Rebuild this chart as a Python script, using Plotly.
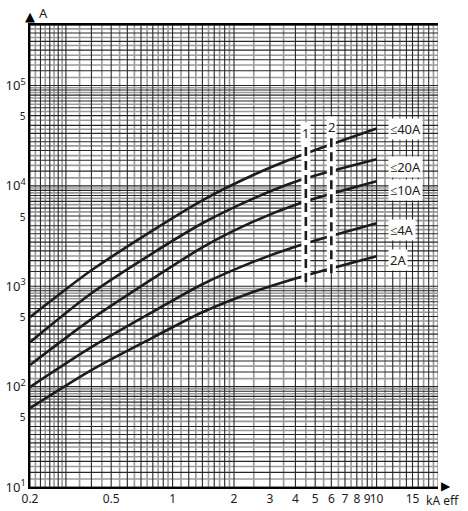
import math
import plotly.graph_objects as go

# ---------------- data ----------------
x_kA = [0.2, 0.4, 0.8, 1.4, 2.5, 4.2, 10]
i_40A = [492, 1442, 3606, 7180, 12900, 19950, 37300]
i_20A = [277, 851, 2140, 4240, 7500, 11350, 18370]
i_10A = [164, 470, 1189, 2443, 4420, 6700, 11100]
i_4A = [99, 247, 556, 1047, 1758, 2560, 4240]
i_2A = [61, 146, 308, 551, 881, 1231, 1990]

curve_names = ["≤40A", "≤20A", "≤10A", "≤4A", "2A"]
curve_label_y = [36500, 15280, 9020, 3606, 1815]

marker_x = [4.5, 6]
marker_y0 = [1100, 1350]
marker_y1 = [27100, 33300]
marker_names = ["1", "2"]
marker_label_y = [33300, 38500]

x_tick_vals = [0.2, 0.5, 1, 2, 3, 4, 5, 6, 7, 8, 9, 10, 15]
x_tick_text = ["0.2", "0.5", "1", "2", "3", "4", "5", "6", "7", "8", "9", "10", "15"]
y_tick_vals = [10, 50, 100, 500, 1000, 5000, 10000, 50000, 100000]
y_tick_text = ["10<sup>1</sup>", "<span style='font-size:10px'>5</span>",
               "10<sup>2</sup>", "<span style='font-size:10px'>5</span>",
               "10<sup>3</sup>", "<span style='font-size:10px'>5</span>",
               "10<sup>4</sup>", "<span style='font-size:10px'>5</span>",
               "10<sup>5</sup>"]

# ---------------- grid (log paper look) ----------------
x_grid_dark = [0.2, 0.225, 0.25, 0.275, 0.3, 0.4, 0.5, 0.6, 0.7, 0.8, 0.9,
               1.0, 1.2, 1.4, 1.6, 1.8, 2, 3, 4, 5, 6, 7, 8, 9, 10, 12, 14, 15, 16, 18]
x_grid_gray = [0.2125, 0.2375, 0.2625, 0.2875, 0.35, 0.45, 0.55, 0.65, 0.75, 0.85, 0.95,
               1.1, 1.3, 1.5, 1.7, 1.9, 2.5, 3.5, 4.5, 5.5, 6.5, 7.5, 8.5, 9.5,
               11, 13, 17, 19, 20]
y_mant_dark = [1, 1.4, 1.8, 2.25, 2.75, 3.33, 4, 5, 6, 7, 8, 9]
y_mant_gray = [1.2, 1.6, 2, 2.5, 3, 3.66, 4.5, 5.5, 6.5, 7.5, 8.5, 9.5]
decades = [10, 100, 1000, 10000, 100000]
x_min, x_max = 0.2, 20
y_min, y_max = 10, 400000
y_grid_dark = [m * d for d in decades for m in y_mant_dark if m * d <= y_max] + [y_max]
y_grid_gray = [m * d for d in decades for m in y_mant_gray if m * d <= y_max]

DARK = "#262626"
GRAY = "#9a9a9a"
INK = "#1c1c1c"
FONT = "Noto Sans"

fig = go.Figure()


def grid_trace(xv, yv, color, width):
    xs, ys = [], []
    for v in xv:
        xs += [v, v, None]
        ys += [y_min, y_max, None]
    for v in yv:
        xs += [x_min, x_max, None]
        ys += [v, v, None]
    return go.Scatter(x=xs, y=ys, mode="lines", line=dict(color=color, width=width),
                      hoverinfo="skip", showlegend=False, connectgaps=False)


fig.add_trace(grid_trace(x_grid_gray, y_grid_gray, GRAY, 1.6))
fig.add_trace(grid_trace(x_grid_dark, y_grid_dark, DARK, 1.1))

# curves
for ys in [i_40A, i_20A, i_10A, i_4A, i_2A]:
    fig.add_trace(go.Scatter(x=x_kA, y=ys, mode="lines",
                             line=dict(color=INK, width=2.6, shape="spline", smoothing=0.8),
                             hoverinfo="skip", showlegend=False))

# dashed marker lines (white halo + black dashes)
for mx, y0, y1 in zip(marker_x, marker_y0, marker_y1):
    fig.add_trace(go.Scatter(x=[mx, mx], y=[y0, y1], mode="lines",
                             line=dict(color="white", width=9),
                             hoverinfo="skip", showlegend=False))
    fig.add_trace(go.Scatter(x=[mx, mx], y=[y0, y1], mode="lines",
                             line=dict(color=INK, width=2.6, dash="9px,5px"),
                             hoverinfo="skip", showlegend=False))

W, H = 468, 511
ml, mr, mt, mb = 30, 30, 25, 24
pw, ph = W - ml - mr, H - mt - mb


def px2paper(px, py):
    return (px - ml) / pw, (H - mb - py) / ph


annotations = []
for name, ly in zip(curve_names, curve_label_y):
    annotations.append(dict(x=math.log10(11.4), y=math.log10(ly), xref="x", yref="y",
                            text=name, showarrow=False, xanchor="left", yanchor="middle",
                            bgcolor="white", borderpad=1,
                            font=dict(family=FONT, size=13, color=INK)))
for name, mx, ly in zip(marker_names, marker_x, marker_label_y):
    annotations.append(dict(x=math.log10(mx), y=math.log10(ly), xref="x", yref="y",
                            text=name, showarrow=False, xanchor="center", yanchor="middle",
                            bgcolor="white", borderpad=1,
                            font=dict(family=FONT, size=13, color=INK)))

ax_, ay_ = px2paper(37, 13)
annotations.append(dict(x=ax_, y=ay_, xref="paper", yref="paper", text="A",
                        showarrow=False, xanchor="left", yanchor="middle",
                        font=dict(family=FONT, size=13, color=INK)))
kx, ky = px2paper(442, 500)
annotations.append(dict(x=kx, y=ky, xref="paper", yref="paper", text="kA eff",
                        showarrow=False, xanchor="center", yanchor="middle",
                        font=dict(family=FONT, size=12, color=INK)))

# axis arrowheads as glyphs
ux, uy = px2paper(30, 17)
annotations.append(dict(x=ux, y=uy, xref="paper", yref="paper", text="▲",
                        showarrow=False, xanchor="center", yanchor="middle",
                        font=dict(family="DejaVu Sans", size=13, color="black")))
rx, ry = px2paper(446, 486)
annotations.append(dict(x=rx, y=ry, xref="paper", yref="paper", text="▶",
                        showarrow=False, xanchor="center", yanchor="middle",
                        font=dict(family="DejaVu Sans", size=12, color="black")))

fig.update_layout(
    width=W, height=H,
    margin=dict(l=ml, r=mr, t=mt, b=mb, pad=0, autoexpand=False),
    paper_bgcolor="white", plot_bgcolor="white",
    showlegend=False,
    annotations=annotations,
    font=dict(family=FONT, size=13, color=INK),
)

fig.update_xaxes(type="log", range=[math.log10(x_min), math.log10(x_max)],
                 tickmode="array", tickvals=x_tick_vals, ticktext=x_tick_text,
                 tickangle=0, automargin=False,
                 showgrid=False, showline=True, linecolor="black", linewidth=1.6, mirror=True,
                 ticks="", tickfont=dict(family=FONT, size=12, color=INK),
                 zeroline=False, fixedrange=True)

fig.update_yaxes(type="log", range=[math.log10(y_min), math.log10(y_max)],
                 tickmode="array", tickvals=y_tick_vals, ticktext=y_tick_text,
                 tickangle=0, automargin=False,
                 showgrid=False, showline=True, linecolor="black", linewidth=1.6,
                 ticks="", tickfont=dict(family=FONT, size=13, color=INK),
                 zeroline=False, fixedrange=True)

fig.write_html("out.html", config={"displayModeBar": False},
               post_script="document.body.style.margin='0px';document.body.style.padding='0px';")
